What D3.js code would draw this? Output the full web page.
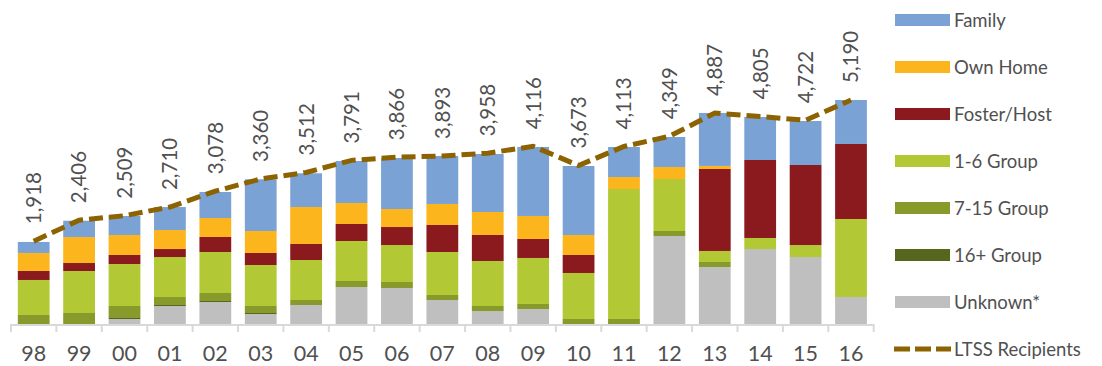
<!DOCTYPE html>
<html lang="en">
<head>
<meta charset="UTF-8">
<title>LTSS Recipients by Residence</title>
<script src="https://d3js.org/d3.v7.min.js"></script>
<style>
  body { margin: 0; background: #fff; font-family: Lato, "Liberation Sans", Arial, sans-serif; }
  svg text { fill: #505050; }
</style>
</head>
<body>
<div id="chart"></div>
<script>
// years on the x axis
var years = ["98","99","00","01","02","03","04","05","06","07","08","09","10","11","12","13","14","15","16"];

// stacked segments, bottom to top
var unknown   = [0, 0, 116, 417, 510, 232, 440, 857, 834, 556, 301, 348, 0, 0, 2039, 1321, 1738, 1552, 626];
var group16   = [0, 0, 23, 23, 23, 23, 0, 0, 0, 0, 0, 0, 0, 0, 0, 0, 0, 0, 0];
var group715  = [209, 255, 278, 185, 185, 162, 116, 139, 139, 116, 116, 116, 116, 116, 116, 116, 0, 0, 0];
var group16sm = [811, 973, 973, 927, 950, 950, 927, 927, 857, 996, 1043, 1066, 1066, 3012, 1205, 255, 255, 278, 1807];
var fosterHost = [209, 185, 209, 185, 348, 278, 371, 394, 417, 626, 602, 440, 417, 0, 0, 1900, 1807, 1854, 1738];
var ownHome   = [417, 602, 463, 440, 440, 510, 857, 487, 417, 487, 533, 533, 463, 278, 278, 70, 0, 0, 0];
var family    = [255, 378, 440, 533, 602, 1198, 781, 973, 1182, 1112, 1344, 1599, 1599, 695, 695, 1228, 996, 1019, 1019];

// line series
var ltss = [1918, 2406, 2509, 2710, 3078, 3360, 3512, 3791, 3866, 3893, 3958, 4116, 3673, 4113, 4349, 4887, 4805, 4722, 5190];

var seriesKeys   = ["unknown", "g16", "g715", "g16sm", "foster", "own", "family"];
var seriesNames  = {family: "Family", own: "Own Home", foster: "Foster/Host", g16sm: "1-6 Group", g715: "7-15 Group", g16: "16+ Group", unknown: "Unknown*"};
var seriesColors = {family: "#7ba2d5", own: "#fdb51d", foster: "#8b1a1f", g16sm: "#b2c935", g715: "#879a2b", g16: "#56661c", unknown: "#bfbfbf"};
var lineColor = "#8c6300";

var rows = years.map(function(y, i) {
  return {year: y, unknown: unknown[i], g16: group16[i], g715: group715[i], g16sm: group16sm[i],
          foster: fosterHost[i], own: ownHome[i], family: family[i], ltss: ltss[i]};
});

var W = 1102, H = 366;
var svg = d3.select("#chart").append("svg").attr("width", W).attr("height", H);

var baseY = 324;
var x = d3.scaleBand().domain(years).range([11, 873.7]).paddingInner(0.3).paddingOuter(0.15);
var y = d3.scaleLinear().domain([0, 5190]).range([baseY, 100]);

var stack = d3.stack().keys(seriesKeys)(rows);

// bars
svg.append("g").selectAll("g")
  .data(stack)
  .join("g")
    .attr("fill", function(d) { return seriesColors[d.key]; })
  .selectAll("rect")
  .data(function(d) { return d; })
  .join("rect")
    .attr("x", function(d) { return x(d.data.year); })
    .attr("y", function(d) { return y(d[1]); })
    .attr("width", x.bandwidth())
    .attr("height", function(d) { return y(d[0]) - y(d[1]); });

// x axis: line with ticks at category boundaries
var step = x.step();
var x0 = x.range()[0];
var axisG = svg.append("g");
axisG.append("line")
  .attr("x1", x0).attr("x2", x.range()[1])
  .attr("y1", baseY + 1).attr("y2", baseY + 1)
  .attr("stroke", "#d9d9d9").attr("stroke-width", 2);
axisG.selectAll(".tk")
  .data(d3.range(years.length + 1))
  .join("line")
    .attr("x1", function(i) { return x0 + i * step; })
    .attr("x2", function(i) { return x0 + i * step; })
    .attr("y1", baseY).attr("y2", baseY + 8)
    .attr("stroke", "#d9d9d9").attr("stroke-width", 2);
axisG.selectAll(".lbl")
  .data(years)
  .join("text")
    .attr("x", function(d) { return x(d) + x.bandwidth() / 2; })
    .attr("y", 361)
    .attr("text-anchor", "middle")
    .style("font-size", "21.5px")
    .text(function(d) { return d; });

// LTSS line
var line = d3.line()
  .x(function(d) { return x(d.year) + x.bandwidth() / 2; })
  .y(function(d) { return y(d.ltss); });
svg.append("path")
  .datum(rows)
  .attr("d", line)
  .attr("fill", "none")
  .attr("stroke", lineColor)
  .attr("stroke-width", 5)
  .attr("stroke-dasharray", "14,6");

// value labels, rotated
var fmt = d3.format(",");
svg.append("g").selectAll("text")
  .data(rows)
  .join("text")
    .attr("transform", function(d) {
      return "translate(" + (x(d.year) + x.bandwidth() / 2) + "," + (y(d.ltss) - 17) + ") rotate(-90)";
    })
    .attr("dy", "0.36em")
    .style("font-size", "20.5px")
    .text(function(d) { return fmt(d.ltss); });

// legend
var legendOrder = ["family", "own", "foster", "g16sm", "g715", "g16", "unknown"];
var leg = svg.append("g");
legendOrder.forEach(function(k, i) {
  var cy = 20 + i * 47;
  leg.append("rect").attr("x", 895).attr("y", cy - 6).attr("width", 55).attr("height", 12)
    .attr("fill", seriesColors[k]);
  leg.append("text").attr("x", 954).attr("y", cy).attr("dy", "0.36em")
    .style("font-size", "18.5px").text(seriesNames[k]);
});
var ly = 20 + 7 * 47;
leg.append("line").attr("x1", 894).attr("x2", 951).attr("y1", ly).attr("y2", ly)
  .attr("stroke", lineColor).attr("stroke-width", 5).attr("stroke-dasharray", "16,5");
leg.append("text").attr("x", 954).attr("y", ly).attr("dy", "0.36em")
  .style("font-size", "18.5px").text("LTSS Recipients");
</script>
</body>
</html>
